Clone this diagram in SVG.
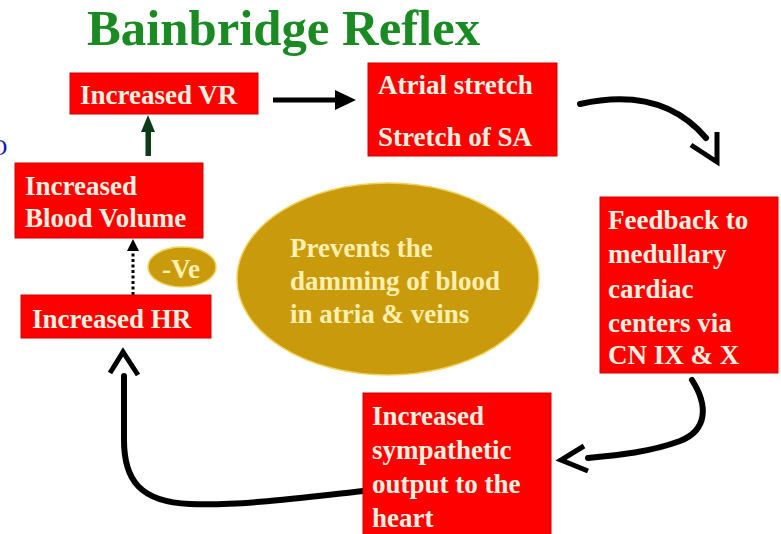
<svg xmlns="http://www.w3.org/2000/svg" width="781" height="534" viewBox="0 0 781 534">
<style>
.box{fill:#ff0000;stroke:#d00000;stroke-width:1}
.bt{font-family:"Liberation Serif","Times New Roman",serif;font-weight:bold;font-size:27px;fill:#fff0e0}
.et{font-family:"Liberation Serif","Times New Roman",serif;font-weight:bold;font-size:27px;fill:#fff0b0}
.conn{fill:none;stroke:#000;stroke-width:6;stroke-linecap:round;stroke-linejoin:round}
.chev{fill:none;stroke:#000;stroke-width:5;stroke-linecap:butt;stroke-linejoin:miter}
.gold{fill:#c99a0c;stroke:#f2d25a;stroke-width:1.5}
</style>
<rect width="781" height="534" fill="#ffffff"/>
<text x="-10" y="155" font-family="Liberation Serif, serif" font-size="24" fill="#1414c0">O</text>
<text id="title" x="87" y="45" font-family="Liberation Serif, 'Times New Roman', serif" font-weight="bold" font-size="50" fill="#1a8a22" textLength="393" lengthAdjust="spacingAndGlyphs">Bainbridge Reflex</text>

<g id="connectors">
  <line x1="273" y1="100" x2="337" y2="100" stroke="#000" stroke-width="5"/>
  <polygon points="335,90 356,100 335,110" fill="#000"/>
  <path class="conn" d="M 580 104 C 625 94, 672 98, 706 138"/>
  <path class="chev" d="M 717 132 L 717 162 L 691 145"/>
  <path class="conn" d="M 692 380 C 708 405, 708 430, 680 441 C 650 452, 620 455, 588 458"/>
  <path class="chev" d="M 584 446 L 561 460 L 588 471"/>
  <path class="conn" d="M 363 491 C 300 498, 240 506, 190 504 C 140 502, 124 480, 124 440 L 124 376"/>
  <path class="chev" d="M 110 373 L 123 352 L 138 375"/>
  <rect x="145.5" y="129" width="5.5" height="27" fill="#0b3b17"/>
  <polygon points="141,132 155,132 148,115" fill="#0b3b17"/>
  <line x1="133" y1="295" x2="133" y2="250" stroke="#000" stroke-width="3" stroke-dasharray="3 2.5"/>
  <polygon points="127,251 139,251 133,239" fill="#000"/>
</g>

<g id="vr">
  <rect class="box" x="70" y="73" width="188" height="41"/>
  <text class="bt" x="80" y="104">Increased VR</text>
</g>
<g id="atrial">
  <rect class="box" x="368" y="63" width="189" height="93"/>
  <text class="bt" x="378" y="94">Atrial stretch</text>
  <text class="bt" x="378" y="146">Stretch of SA</text>
</g>
<g id="feedback">
  <rect class="box" x="600" y="197" width="178" height="176"/>
  <text class="bt" x="608" y="229">Feedback to</text>
  <text class="bt" x="608" y="263">medullary</text>
  <text class="bt" x="608" y="298">cardiac</text>
  <text class="bt" x="608" y="332">centers via</text>
  <text class="bt" x="608" y="364">CN IX &amp; X</text>
</g>
<g id="sympathetic">
  <rect class="box" x="363" y="393" width="188" height="145"/>
  <text class="bt" x="372" y="425">Increased</text>
  <text class="bt" x="372" y="459">sympathetic</text>
  <text class="bt" x="372" y="493">output to the</text>
  <text class="bt" x="372" y="527">heart</text>
</g>
<g id="hr">
  <rect class="box" x="21" y="295" width="190" height="43"/>
  <text class="bt" x="32" y="328">Increased HR</text>
</g>
<g id="bloodvolume">
  <rect class="box" x="15" y="163" width="188" height="75"/>
  <text class="bt" x="25" y="195">Increased</text>
  <text class="bt" x="25" y="227">Blood Volume</text>
</g>
<g id="ve">
  <ellipse class="gold" cx="182" cy="267" rx="34" ry="20"/>
  <text class="et" x="162" y="278">-Ve</text>
</g>
<g id="prevents">
  <ellipse class="gold" cx="388" cy="279" rx="151" ry="96"/>
  <text class="et" x="290" y="257">Prevents the</text>
  <text class="et" x="290" y="290">damming of blood</text>
  <text class="et" x="290" y="323">in atria &amp; veins</text>
</g>
</svg>
